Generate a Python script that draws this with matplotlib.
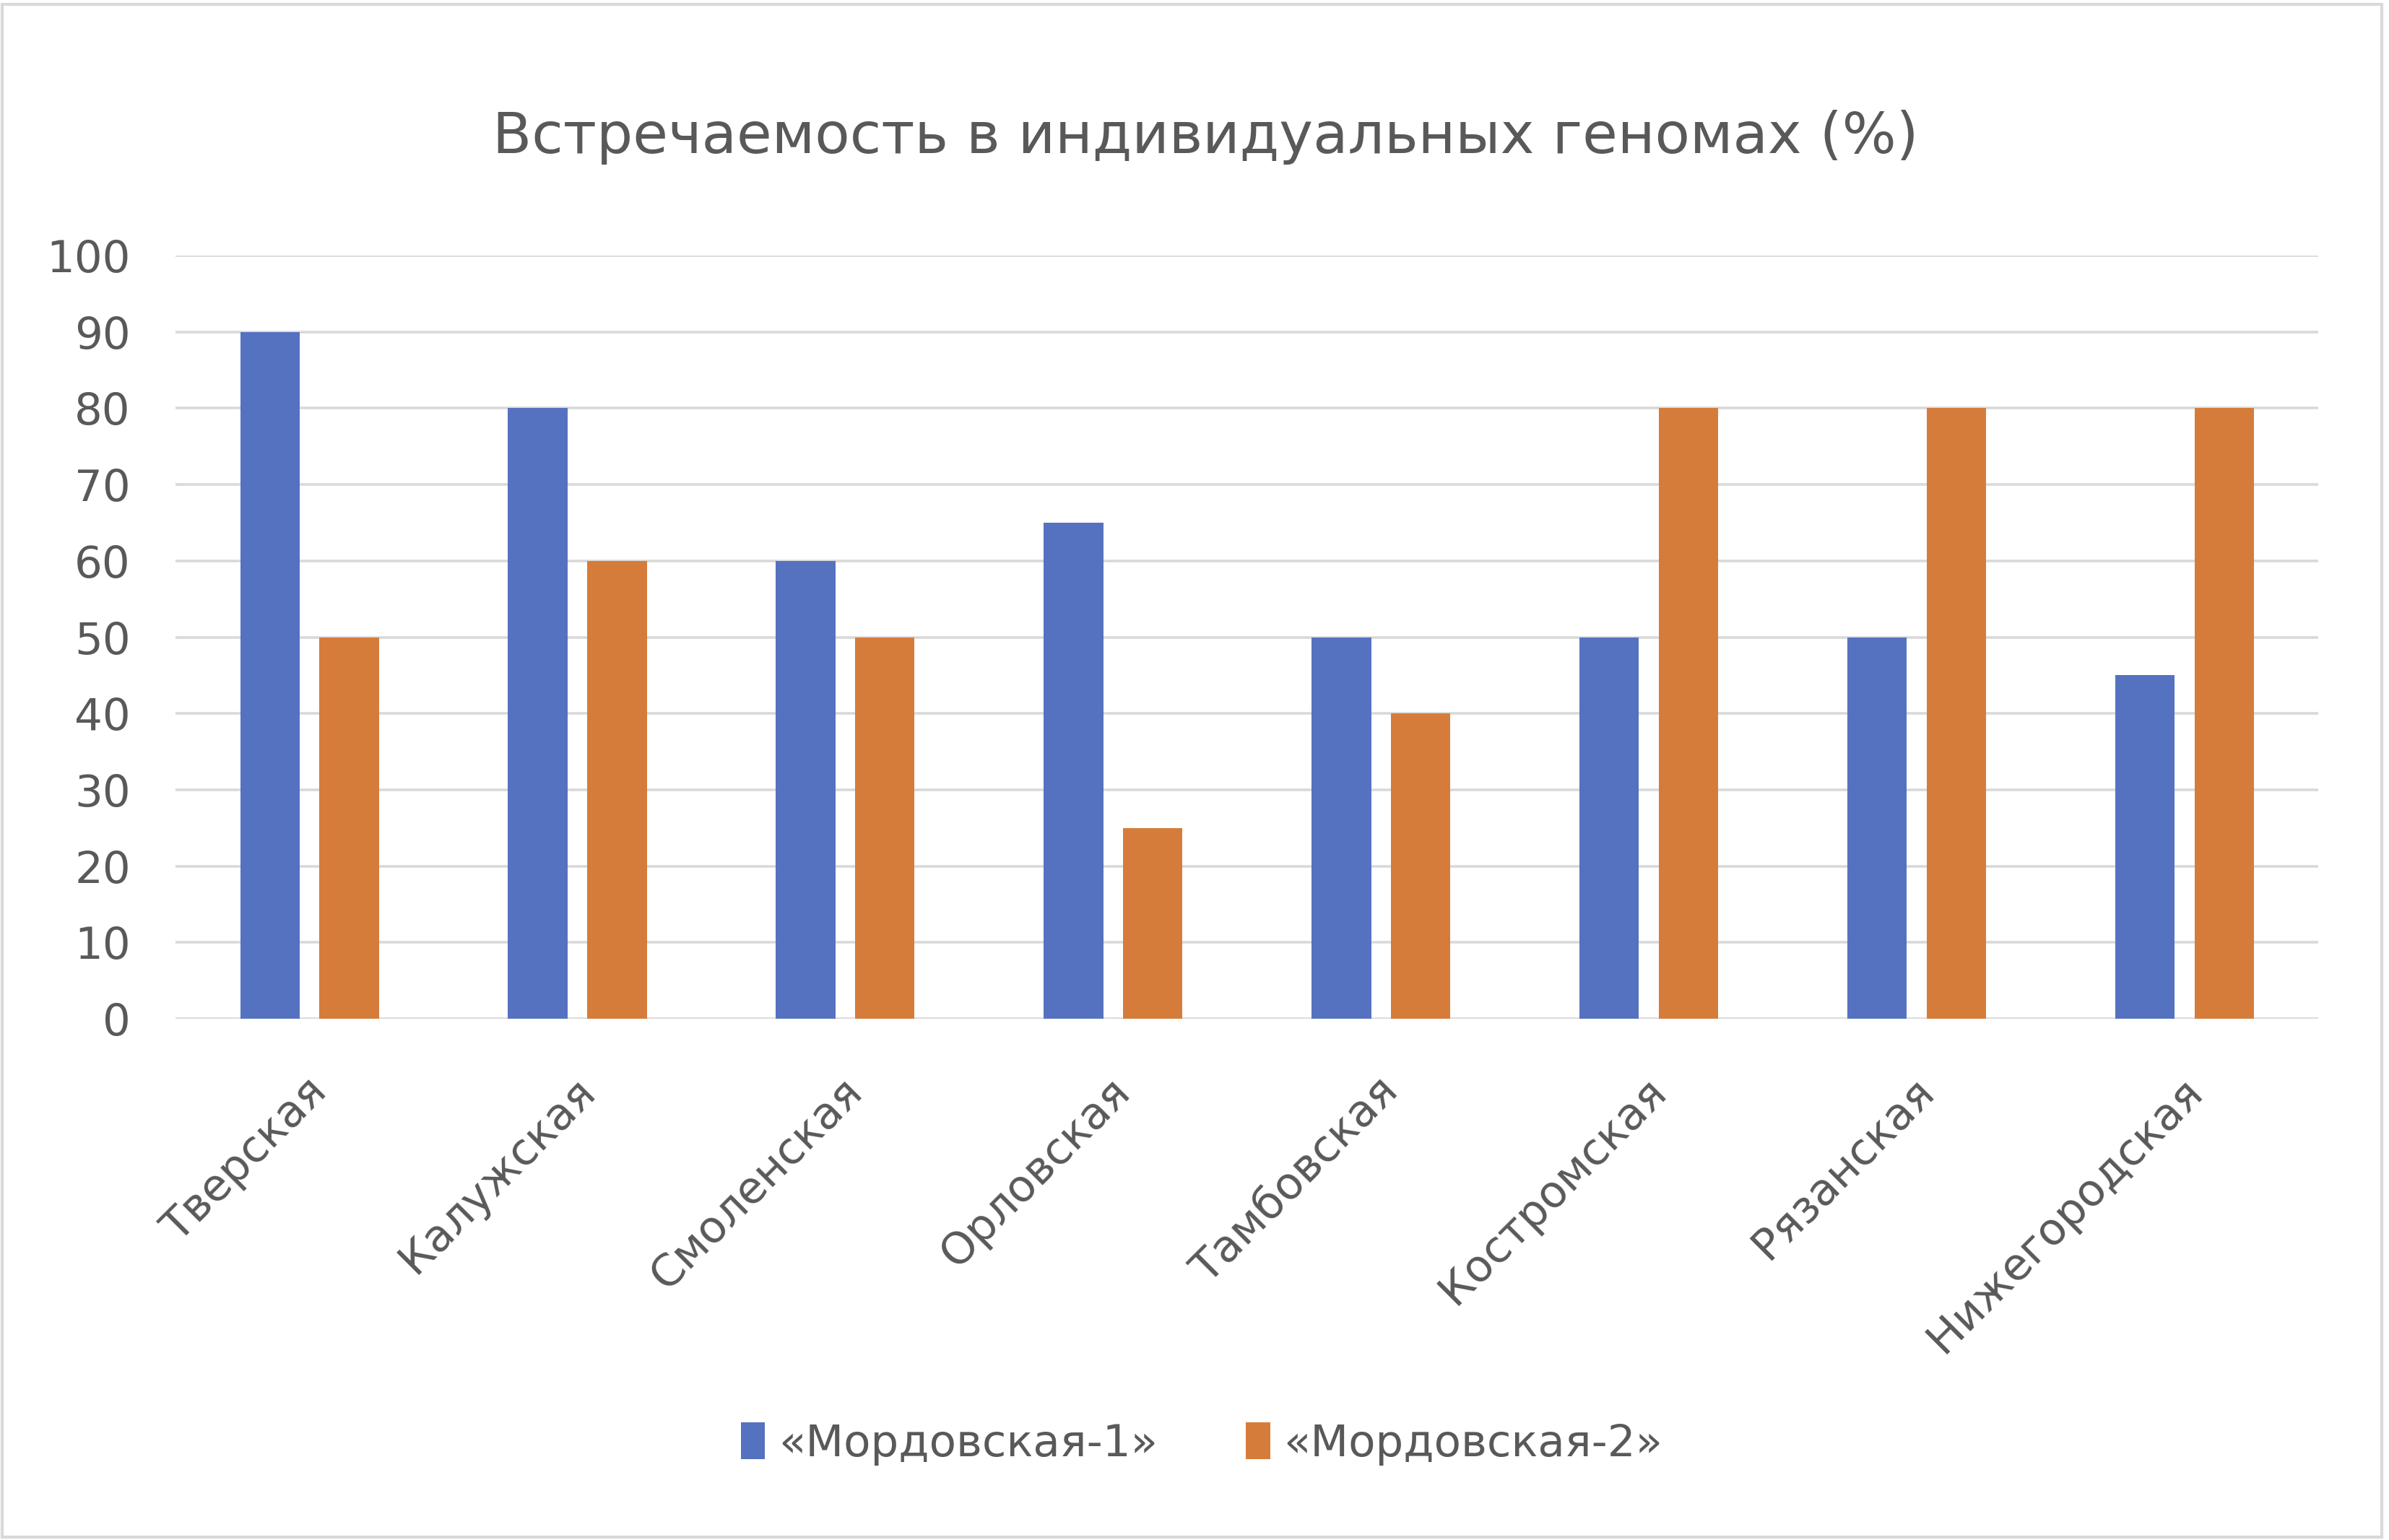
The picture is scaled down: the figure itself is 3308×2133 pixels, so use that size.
import matplotlib.pyplot as plt
import matplotlib.transforms as mtransforms
import numpy as np
from matplotlib.patches import Rectangle

regions = ['Тверская', 'Калужская', 'Смоленская', 'Орловская',
           'Тамбовская', 'Костромская', 'Рязанская', 'Нижегородская']
mord1 = [90, 80, 60, 65, 50, 50, 50, 45]
mord2 = [50, 60, 50, 25, 40, 80, 80, 80]
series_names = ['«Мордовская-1»', '«Мордовская-2»']
title = 'Встречаемость в индивидуальных геномах (%)'

blue = '#5572C0'
orange = '#D67C3A'
txt = '#595959'
grid = '#D9D9D9'

plt.rcParams['font.family'] = ['DejaVu Sans']

fig = plt.figure(figsize=(33.08, 21.33), dpi=100)
ax = fig.add_axes([0.0735, 0.3385, 0.897, 0.4955])

x = np.arange(len(regions))
w = 0.222
ax.bar(x - 0.148, mord1, w, color=blue, label=series_names[0], zorder=3)
ax.bar(x + 0.148, mord2, w, color=orange, label=series_names[1], zorder=3)

ax.set_xlim(-0.5, len(regions) - 0.5)
ax.set_ylim(0, 100)
ax.set_yticks(range(0, 101, 10))
ax.yaxis.grid(True, color=grid, lw=2.6, zorder=0)
ax.set_axisbelow(True)
for s in ax.spines.values():
    s.set_visible(False)
ax.tick_params(axis='y', length=0, pad=45, labelsize=44, labelcolor=txt)
ax.tick_params(axis='x', length=0, pad=66, labelsize=44, labelcolor=txt)
ax.set_xticks(x)
ax.set_xticklabels(regions, rotation=45, ha='right', va='center', rotation_mode='anchor')
# nudge labels a little to the right, like the original
shift = mtransforms.ScaledTranslation(0.15, 0, fig.dpi_scale_trans)
for lab in ax.get_xticklabels():
    lab.set_transform(lab.get_transform() + shift)

fig.text(0.5045, 1 - 190 / 2133, title, ha='center', va='center', fontsize=57, color=txt)

leg = fig.legend(loc='center', bbox_to_anchor=(0.503, 0.0624), ncol=2, frameon=False,
                 fontsize=44, labelcolor=txt, handlelength=0.55, handleheight=0.9,
                 handletextpad=0.3, columnspacing=2.0)

fig.patches.append(Rectangle((0.001, 0.002), 0.996, 0.995, transform=fig.transFigure,
                             fill=False, edgecolor=grid, lw=3))

fig.savefig('out.png', dpi=100, facecolor='white')
